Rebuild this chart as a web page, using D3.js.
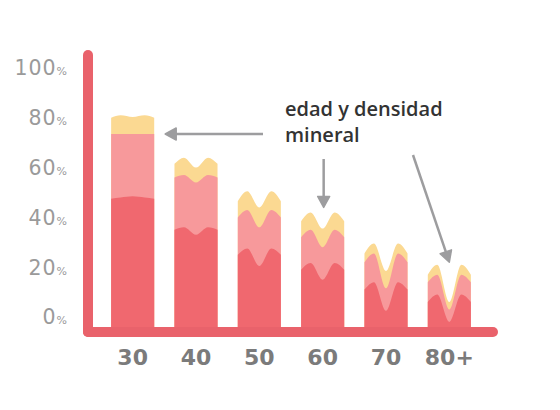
<!DOCTYPE html>
<html>
<head>
<meta charset="utf-8">
<script src="https://cdn.jsdelivr.net/npm/d3@7"></script>
<style>
  html, body { margin: 0; padding: 0; background: #fff; }
</style>
</head>
<body>
<div id="chart"></div>
<script>
// Edad y densidad mineral

// Data
let ages = ['30', '40', '50', '60', '70', '80+']
let yTicks = [0, 20, 40, 60, 80, 100]
let noteLines = ['edad y densidad', 'mineral']

// each bar top is sampled 5 times across its width:
// left edge, left hump, middle, right hump, right edge (in %)
let yellowTop = [
  [80, 81, 80.3, 81, 80],
  [61.5, 64, 60, 64, 61.5],
  [46.5, 50.5, 44, 50.5, 46.5],
  [38.5, 42, 35.5, 42, 38.5],
  [25.5, 29.5, 18.5, 29.5, 25.5],
  [17, 21, 6, 21, 17],
]
let pinkTop = [
  [73.5, 73.5, 73.5, 73.5, 73.5],
  [56, 57, 54, 57, 56],
  [40, 43, 36, 43, 40],
  [32, 35, 28, 35, 32],
  [22, 25.5, 11.5, 25.5, 22],
  [14, 17, 3, 17, 14],
]
let redTop = [
  [47.5, 48, 48.5, 48, 47.5],
  [35, 36, 33, 36, 35],
  [25, 27.5, 20.5, 27.5, 25],
  [19, 21.7, 15, 21.7, 19],
  [11, 14, 2.5, 14, 11],
  [6, 9, -2, 9, 6],
]

// Basic variables
let chart = {
  width: 560,
  height: 410,
  axisColor: '#e9626b',
  greyText: '#9a9a9a',
  arrowColor: '#9d9d9f',
  samplePos: [0, 0.22, 0.5, 0.78, 1],
}

let layers = [
  {color: '#fbd992', values: yellowTop},
  {color: '#f7999b', values: pinkTop},
  {color: '#f0686f', values: redTop},
]

let svg = d3.select('#chart')
  .append('svg')
  .attr('width', chart.width)
  .attr('height', chart.height)

let x = d3.scaleBand()
  .domain(ages)
  .range([101, 481])
  .paddingInner(0.32)
  .paddingOuter(0.16)

let y = d3.scaleLinear()
  .domain([0, 100])
  .range([317, 68])

chart.baseY = y(0) + 15
chart.axisX = 88

// Bars, one stacked area per layer
let area = d3.area()
  .x((d) => d[0])
  .y0(chart.baseY)
  .y1((d) => d[1])
  .curve(d3.curveMonotoneX)

layers.forEach((layer) => {
  svg.append('g')
    .selectAll('path')
    .data(ages)
    .enter()
    .append('path')
    .attr('fill', layer.color)
    .attr('d', (age, i) => {
      let pts = layer.values[i].map((v, j) => [x(age) + chart.samplePos[j] * x.bandwidth(), y(v)])
      return area(pts)
    })
})

// Axis lines
svg.append('line')
  .attr('x1', chart.axisX).attr('y1', 55)
  .attr('x2', chart.axisX).attr('y2', chart.baseY)
  .attr('stroke', chart.axisColor)
  .attr('stroke-width', 10)
  .attr('stroke-linecap', 'round')

svg.append('line')
  .attr('x1', chart.axisX).attr('y1', chart.baseY)
  .attr('x2', 493).attr('y2', chart.baseY)
  .attr('stroke', chart.axisColor)
  .attr('stroke-width', 10)
  .attr('stroke-linecap', 'round')

// Y labels
let yLabels = svg.append('g')
  .selectAll('text')
  .data(yTicks)
  .enter()
  .append('text')
  .attr('x', 67)
  .attr('y', (d) => y(d))
  .attr('dy', '0.36em')
  .attr('text-anchor', 'end')
  .attr('fill', chart.greyText)
  .attr('font-family', 'DejaVu Sans')
  .attr('font-size', 20.5)
  .attr('letter-spacing', 1)

yLabels.append('tspan').text((d) => d)
yLabels.append('tspan').attr('font-size', 11).attr('letter-spacing', 0).text('%')

// X labels
svg.append('g')
  .selectAll('text')
  .data(ages)
  .enter()
  .append('text')
  .attr('x', (d) => x(d) + x.bandwidth() / 2)
  .attr('y', 365)
  .attr('text-anchor', 'middle')
  .attr('fill', '#7b7b7b')
  .attr('font-family', 'DejaVu Sans')
  .attr('font-weight', 'bold')
  .attr('font-size', 22)
  .text((d) => d)

// Note
svg.append('g')
  .selectAll('text')
  .data(noteLines)
  .enter()
  .append('text')
  .attr('x', 285)
  .attr('y', (d, i) => 116 + i * 26)
  .attr('fill', '#333')
  .attr('font-family', 'Open Sans')
  .attr('font-weight', 600)
  .attr('font-size', 20)
  .text((d) => d)

// Arrows
let bw = x.bandwidth()
let arrows = [
  [263, y(73.5), x('30') + bw + 11, y(73.5)],
  [x('60') + bw / 2 + 1, 159, x('60') + bw / 2 + 1, y(44)],
  [413, 155, x('80+') + bw / 2, y(22)],
]

arrows.forEach((a) => drawArrow(a[0], a[1], a[2], a[3]))

function drawArrow(x1, y1, x2, y2) {
  let headLen = 11
  let headHalf = 6
  let dx = x2 - x1
  let dy = y2 - y1
  let len = Math.sqrt(dx * dx + dy * dy)
  let ux = dx / len
  let uy = dy / len
  let bx = x2 - ux * headLen
  let by = y2 - uy * headLen

  svg.append('line')
    .attr('x1', x1).attr('y1', y1)
    .attr('x2', bx + ux * 2).attr('y2', by + uy * 2)
    .attr('stroke', chart.arrowColor)
    .attr('stroke-width', 2.5)

  let p1 = `${x2},${y2}`
  let p2 = `${bx - uy * headHalf},${by + ux * headHalf}`
  let p3 = `${bx + uy * headHalf},${by - ux * headHalf}`
  svg.append('polygon')
    .attr('points', `${p1} ${p2} ${p3}`)
    .attr('fill', chart.arrowColor)
    .attr('stroke', chart.arrowColor)
    .attr('stroke-linejoin', 'round')
    .attr('stroke-width', 1.5)
}
</script>
</body>
</html>
